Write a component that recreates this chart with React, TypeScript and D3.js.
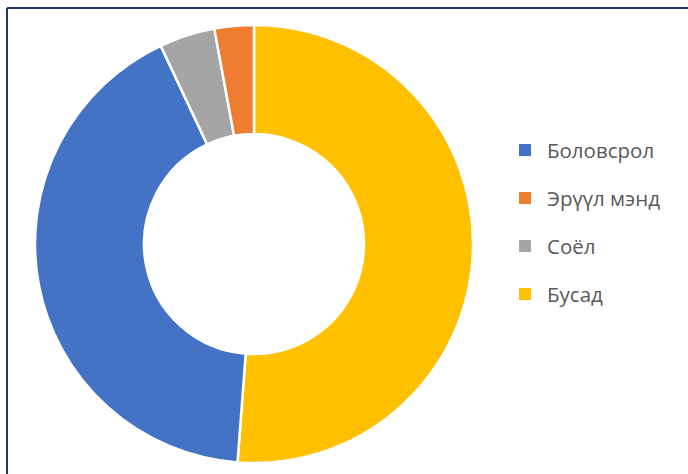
import React from "react";
import * as d3 from "d3";

const categories = ["Боловсрол", "Эрүүл мэнд", "Соёл", "Бусад"];
const values = [41.8, 2.9, 4.1, 51.2];
const colors = ["#4472C4", "#ED7D31", "#A5A5A5", "#FFC000"];
// clockwise drawing order from 12 o'clock, as seen in the picture
const drawOrder = [3, 0, 2, 1];

const W = 688;
const H = 474;
const cx = 254;
const cy = 244;
const outerR = 219;
const innerR = 110;

export default function App() {
  const ordered = drawOrder.map((i) => ({ i, v: values[i] }));
  const pie = d3.pie<{ i: number; v: number }>().sort(null).value((d) => d.v);
  const arcs = pie(ordered);
  const arc = d3.arc<d3.PieArcDatum<{ i: number; v: number }>>().innerRadius(innerR).outerRadius(outerR);
  const legendY = d3.scalePoint<string>().domain(categories).range([150, 294]);

  return (
    <svg
      width={W}
      height={H}
      style={{ position: "absolute", left: 0, top: 0, background: "#fff" }}
    >
      <rect x={0} y={0} width={W} height={H} fill="#fff" />
      <line x1={7} y1={8} x2={W} y2={8} stroke="#1F3864" strokeWidth={2} />
      <line x1={7} y1={8} x2={7} y2={H} stroke="#1F3864" strokeWidth={2} />
      <g transform={`translate(${cx},${cy})`}>
        {arcs.map((a) => (
          <path key={a.data.i} d={arc(a) || ""} fill={colors[a.data.i]} stroke="#fff" strokeWidth={2.5} />
        ))}
      </g>
      <g fontFamily="'Open Sans', sans-serif" fontSize={20.5} fill="#595959">
        {categories.map((c, i) => (
          <g key={c} transform={`translate(519,${legendY(c)})`}>
            <rect x={0} y={-6} width={12} height={12} fill={colors[i]} />
            <text x={28} y={0} dominantBaseline="central">
              {c}
            </text>
          </g>
        ))}
      </g>
    </svg>
  );
}
